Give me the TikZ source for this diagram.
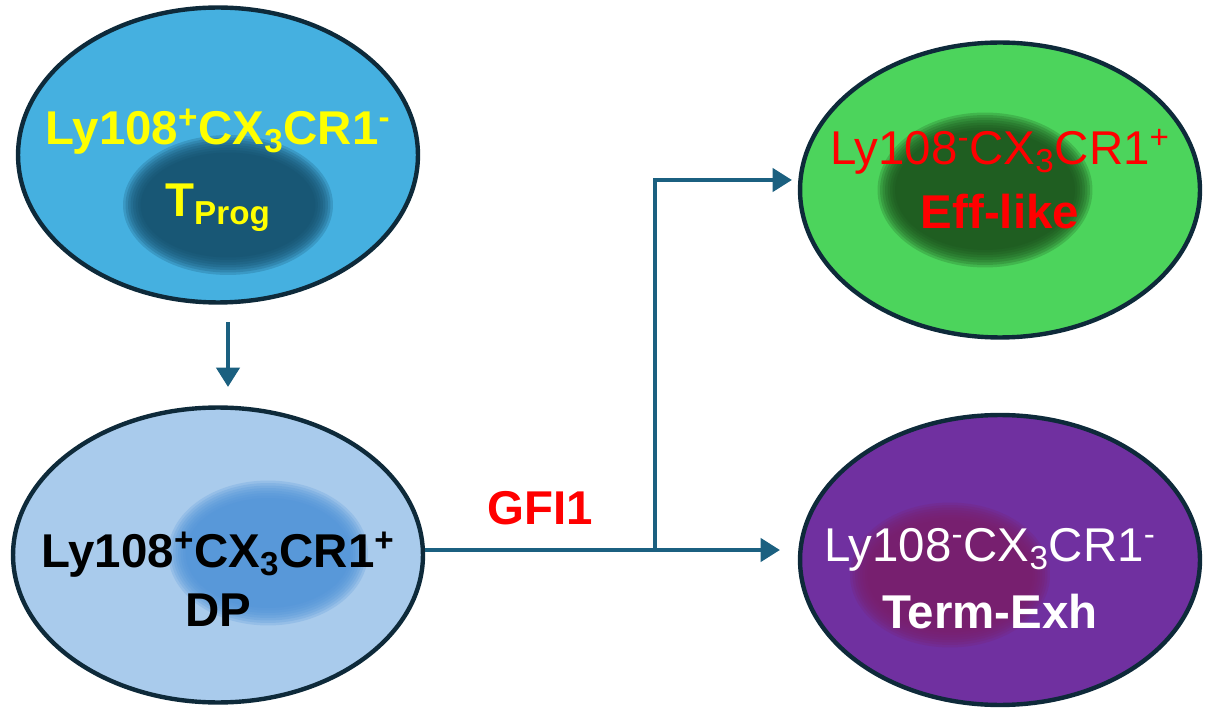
\documentclass[tikz,border=0pt]{standalone}
\usepackage{fontspec}
\setmainfont{Liberation Sans}
\usetikzlibrary{shapes.geometric,arrows.meta}
\definecolor{rim}{HTML}{0E2A3A}
\definecolor{flow}{HTML}{1B6080}
\definecolor{progout}{HTML}{45B0E0}\definecolor{progin}{HTML}{134B66}
\definecolor{dpout}{HTML}{A9CBEC}\definecolor{dpin}{HTML}{4E92D8}
\definecolor{effout}{HTML}{4CD45C}\definecolor{effin}{HTML}{1A4D1A}
\definecolor{exhout}{HTML}{7030A0}\definecolor{exhin}{HTML}{7B1F6A}
\definecolor{yel}{HTML}{FFFF00}\definecolor{red}{HTML}{FF0000}
\tikzset{
  cell/.style={ellipse,draw=rim,line width=2.5pt,minimum width=8cm,minimum height=5.9cm},
  lbl/.style={font=\fontsize{27}{31}\selectfont, align=center},
  bold lbl/.style={lbl,font=\fontsize{27}{31}\selectfont\bfseries},
  flowline/.style={flow,line width=2.6pt},
  flowarrow/.style={flowline,-{Triangle[length=11pt,width=13pt]}}
}
% blurred inner spot
\newcommand{\spot}[5]{%
  \foreach \k in {0,...,7}
    \fill[#5,opacity=0.22] (#1,#2) ellipse ({(#3+0.25-0.05*\k)*1cm} and {(#4+0.25-0.05*\k)*1cm});
}
\begin{document}
\begin{tikzpicture}[x=0.02cm,y=-0.02cm]
\useasboundingbox (0,0) rectangle (1220,709);
% cells
\node[cell,fill=progout] (prog) at (218,155) {};
\node[cell,fill=dpout,minimum width=8.2cm] (dp) at (218,555) {};
\node[cell,fill=effout] (eff) at (1000,190) {};
\node[cell,fill=exhout,minimum height=5.8cm] (exh) at (1000,560) {};
\spot{228}{205}{1.85}{1.15}{progin}
\spot{268}{553}{1.75}{1.2}{dpin}
\spot{985}{190}{1.9}{1.3}{effin}
\spot{950}{575}{1.75}{1.2}{exhin}
% labels
\node[bold lbl,text=yel] (progt) at (218,132) {Ly108\textsuperscript{+}CX\textsubscript{3}CR1\textsuperscript{-}};
\node[bold lbl,text=yel] (progn) at (218,208) {T\textsubscript{Prog}};
\node[bold lbl] (dpt) at (218,555) {Ly108\textsuperscript{+}CX\textsubscript{3}CR1\textsuperscript{+}};
\node[bold lbl] (dpn) at (218,610) {DP};
\node[lbl,text=red] (efft) at (1000,152) {Ly108\textsuperscript{-}CX\textsubscript{3}CR1\textsuperscript{+}};
\node[bold lbl,text=red] (effn) at (1000,212) {Eff-like};
\node[lbl,text=white] (exht) at (990,550) {Ly108\textsuperscript{-}CX\textsubscript{3}CR1\textsuperscript{-}};
\node[bold lbl,text=white] (exhn) at (990,612) {Term-Exh};
\node[bold lbl,text=red] (gfi) at (540,508) {GFI1};
% connectors
\coordinate (down1) at (228,322);
\coordinate (down2) at (228,387);
\coordinate (split) at (655,550);
\coordinate (up) at (655,180);
\coordinate (toeff) at (792,180);
\coordinate (toexh) at (780,550);
\draw[flowarrow] (down1) -- (down2);
\draw[flowline] (dp.east |- split) -- (split);
\draw[flowarrow] (split) -- (toexh);
\draw[flowarrow] (split) -- (up) -- (toeff);
\end{tikzpicture}
\end{document}
